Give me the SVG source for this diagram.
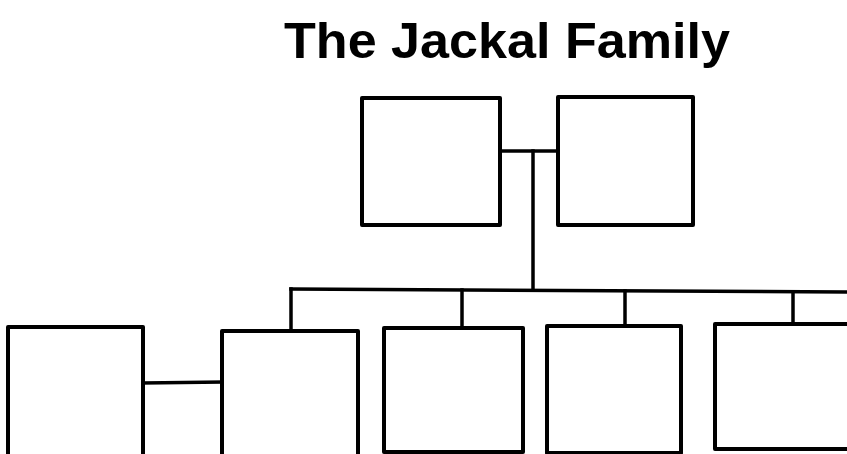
<svg xmlns="http://www.w3.org/2000/svg" width="847" height="454" viewBox="0 0 847 454">
<style>
.box{fill:#fff;stroke:#000;stroke-width:4;stroke-linejoin:round}
.con{fill:none;stroke:#000;stroke-width:3.5;stroke-linecap:square}
.title{font-family:"Liberation Sans",Arial,sans-serif;font-size:50px;font-weight:bold;fill:#000}
</style>
<rect width="847" height="454" fill="#fff"/>
<text class="title" x="284" y="58" textLength="446" lengthAdjust="spacingAndGlyphs">The Jackal Family</text>
<g id="connectors">
<path class="con" d="M500 151 L558 151"/>
<path class="con" d="M533 151 L533 290"/>
<path class="con" d="M291 289 L847 292"/>
<path class="con" d="M291 289 L291 331"/>
<path class="con" d="M462 290 L462 328"/>
<path class="con" d="M625 291 L625 326"/>
<path class="con" d="M793 292 L793 324"/>
<path class="con" d="M143 383 L222 382"/>
</g>
<g id="parent1"><rect class="box" x="362" y="98" width="138" height="127"/></g>
<g id="parent2"><rect class="box" x="558" y="97" width="135" height="128"/></g>
<g id="spouse"><rect class="box" x="8" y="327" width="135" height="140"/></g>
<g id="child1"><rect class="box" x="222" y="331" width="136" height="140"/></g>
<g id="child2"><rect class="box" x="384" y="328" width="139" height="124"/></g>
<g id="child3"><rect class="box" x="547" y="326" width="134" height="127"/></g>
<g id="child4"><rect class="box" x="715" y="324" width="150" height="125"/></g>
</svg>
